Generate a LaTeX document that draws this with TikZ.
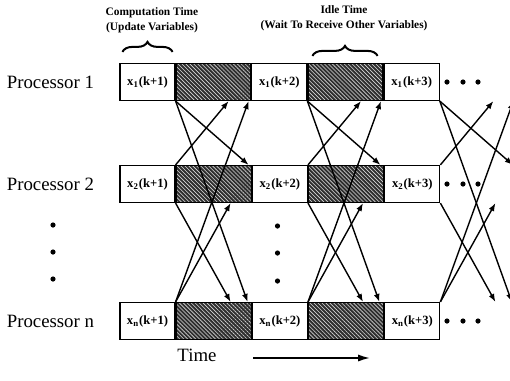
\documentclass[tikz,border=0pt]{standalone}
\usepackage{fontspec}
\setmainfont{Liberation Serif}
\usetikzlibrary{positioning,calc,arrows.meta,patterns.meta,decorations.pathreplacing}

\begin{document}
\begin{tikzpicture}[
  x=0.5pt, y=-0.5pt,
  >=Latex,
  compbox/.style={
    rectangle,
    draw=black,
    fill=white,
    line width=0.6pt,
    minimum width=27.5pt,
    minimum height=18.5pt,
    inner sep=0pt,
    font=\fontsize{6.3}{7}\selectfont\bfseries
  },
  idlebox/.style={
    rectangle,
    draw=black,
    line width=0.6pt,
    minimum width=37.5pt,
    minimum height=18.5pt,
    inner sep=0pt,
    preaction={fill=black!82},
    pattern={Lines[angle=-45, distance=1.4pt, line width=0.3pt]},
    pattern color=white!85!black
  },
  msg/.style={-{Latex[length=4pt, width=3pt]}, line width=0.7pt},
  timeflow/.style={-{Latex[length=6pt, width=3.6pt]}, line width=0.8pt},
  brace/.style={decorate, decoration={brace, amplitude=5pt}, line width=1pt},
  procLabel/.style={font=\fontsize{9.4}{11}\selectfont, inner sep=0pt},
  headLabel/.style={font=\fontsize{5.7}{7.4}\selectfont\bfseries, align=center, inner sep=0pt},
  bigdot/.style={fill=black}
]
  \useasboundingbox (0,0) rectangle (510,381);

  % Processor rows
  \foreach \r/\y in {1/82, 2/184, n/321} {
    \node[compbox] (x\r k1) at (147.5,\y) {x\textsubscript{\r}(k+1)};
    \node[idlebox, right=0pt of x\r k1] (idle\r k1) {};
    \node[compbox, right=0pt of idle\r k1] (x\r k2) {x\textsubscript{\r}(k+2)};
    \node[idlebox, right=0pt of x\r k2] (idle\r k2) {};
    \node[compbox, right=0pt of idle\r k2] (x\r k3) {x\textsubscript{\r}(k+3)};
    \node[procLabel, left=12.5pt of x\r k1] (proc\r) {Processor \r};
    \foreach \x in {447,463,478}
      \fill[bigdot] (\x,\y) circle[radius=1.3pt];
  }

  % Vertical dots
  \foreach \y in {225,252,279}
    \fill[bigdot] (53,\y) circle[radius=1.3pt];
  \foreach \y in {226,253,281}
    \fill[bigdot] (277.5,\y) circle[radius=1.3pt];

  % Messages sent when each update ends
  \foreach \k in {1,2,3} {
    \draw[msg] (x1k\k.south east) -- ($(x1k\k.south east |- x2k\k.north)+(73,0)$);
    \draw[msg] (x1k\k.south east) -- ($(x1k\k.south east |- xnk\k.north)+(72,0)$);
    \draw[msg] (x2k\k.north east) -- ($(x2k\k.north east |- x1k\k.south)+(53,0)$);
    \draw[msg] (x2k\k.south east) -- ($(x2k\k.south east |- xnk\k.north)+(55,0)$);
    \draw[msg] (xnk\k.north east) -- ($(xnk\k.north east |- x1k\k.south)+(73,0)$);
    \draw[msg] (xnk\k.north east) -- ($(xnk\k.north east |- x2k\k.south)+(55,0)$);
  }

  % Braces and headings
  \draw[brace] ($(x1k1.north west)+(3,-11)$) -- ($(x1k1.north east)+(-3,-11)$);
  \draw[brace] ($(idle1k2.north west)+(5,-7)$) -- ($(idle1k2.north east)+(-6,-7)$);
  \node[headLabel] (compLabel) at (152,20) {Computation Time\\(Update Variables)};
  \node[headLabel] (idleLabel) at (344,18) {Idle Time\\(Wait To Receive Other Variables)};

  % Time axis
  \node[procLabel] (timeLabel) at (197,355) {Time};
  \coordinate (timeStart) at (253,358);
  \coordinate (timeEnd) at (370,358);
  \draw[timeflow] (timeStart) -- (timeEnd);
\end{tikzpicture}
\end{document}
